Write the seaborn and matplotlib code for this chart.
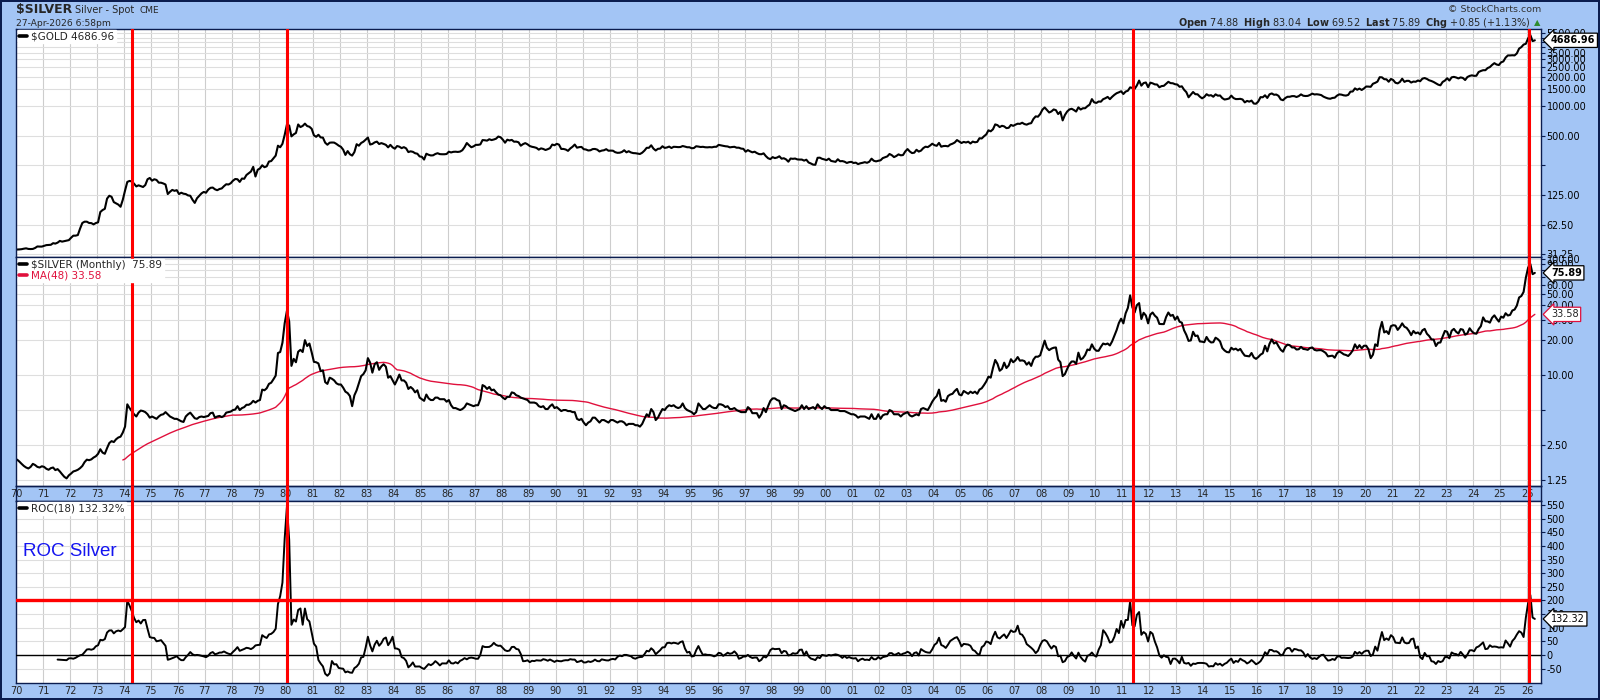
import numpy as np
import pandas as pd
import matplotlib
matplotlib.use("Agg")
import matplotlib.pyplot as plt
import seaborn as sns
from matplotlib.lines import Line2D
from matplotlib.ticker import FixedLocator, FixedFormatter, NullLocator

# ---------------- data: monthly closes, Jan 1970 .. Apr 2026 ----------------
GOLD_1970S = [
    34.9, 35.0, 35.2, 35.6, 35.9, 35.4, 35.3, 35.4, 36.2, 37.5, 37.4, 37.4,
    38.0, 38.7, 38.9, 39.0, 40.5, 40.1, 41.0, 42.7, 42.0, 42.5, 43.0, 43.5,
    46.0, 48.3, 48.3, 49.0, 57.0, 65.0, 67.0, 67.0, 65.0, 64.8, 62.9, 64.9,
    66.0, 84.0, 88.0, 90.5, 115.0, 123.0, 120.0, 106.0, 103.0, 100.0, 95.0, 112.0,
    139.0, 170.0, 174.0, 172.0, 163.0, 153.0, 157.0, 154.0, 151.0, 158.0, 181.0, 186.5,
    175.0, 181.0, 178.0, 167.0, 167.0, 164.0, 160.0, 128.0, 135.0, 141.0, 138.0, 140.2,
    128.0, 132.0, 129.0, 128.0, 124.0, 123.0, 112.0, 104.0, 116.0, 123.0, 130.0, 134.5,
    132.0, 142.0, 148.0, 149.0, 143.0, 140.0, 144.0, 146.0, 154.0, 161.0, 160.0, 164.9,
    175.0, 182.0, 181.0, 170.0, 184.0, 183.0, 200.0, 208.0, 217.0, 242.0, 193.0, 226.0,
    233.0, 251.0, 240.0, 245.0, 274.0, 277.0, 296.0, 315.0, 397.0, 383.0, 415.0, 512.0,
]
GOLD_1980S = [
    653, 637, 494, 518, 535, 653, 614, 631, 666, 629, 619, 590,
    506, 489, 513, 482, 480, 426, 406, 426, 428, 427, 414, 398,
    387, 362, 320, 350, 325, 315, 342, 411, 397, 423, 436, 457,
    481, 408, 414, 429, 437, 413, 422, 414, 405, 382, 405, 382,
    370, 394, 388, 375, 384, 373, 342, 348, 344, 333, 329, 309,
    306, 287, 329, 321, 316, 317, 327, 333, 326, 325, 325, 327,
    345, 339, 344, 345, 343, 346, 357, 384, 423, 401, 383, 391,
    405, 405, 409, 453, 451, 447, 462, 453, 459, 468, 492, 484,
    458, 426, 457, 449, 455, 436, 437, 430, 397, 412, 422, 410,
    394, 387, 383, 377, 362, 373, 368, 359, 366, 375, 408, 401,
]
GOLD_1990S = [
    415, 407, 368, 368, 363, 352, 372, 387, 408, 379, 384, 386,
    366, 363, 355, 357, 367, 368, 362, 347, 354, 357, 366, 353,
    354, 353, 341, 336, 337, 343, 357, 340, 349, 339, 334, 333,
    330, 327, 337, 354, 378, 378, 401, 371, 355, 369, 371, 392,
    377, 381, 389, 376, 387, 386, 384, 385, 394, 389, 383, 383,
    374, 376, 392, 389, 385, 387, 383, 382, 384, 382, 387, 387,
    405, 400, 396, 392, 390, 382, 385, 387, 379, 379, 371, 369,
    345, 358, 348, 340, 345, 334, 326, 325, 332, 311, 296, 290,
    304, 297, 301, 310, 293, 296, 288, 273, 294, 292, 294, 288,
    287, 287, 280, 286, 268, 262, 255, 254, 299, 300, 292, 288,
]
GOLD_2000S = [
    283, 293, 278, 275, 272, 289, 276, 277, 273, 265, 270, 272,
    265, 267, 258, 263, 266, 270, 266, 273, 293, 279, 275, 279,
    282, 297, 303, 309, 327, 318, 304, 312, 324, 317, 319, 347,
    367, 347, 334, 337, 361, 346, 354, 375, 388, 384, 398, 416,
    402, 396, 424, 388, 394, 395, 391, 408, 416, 428, 453, 438,
    423, 434, 428, 436, 418, 437, 430, 434, 473, 470, 495, 517,
    569, 556, 583, 654, 643, 614, 633, 624, 599, 604, 646, 632,
    650, 665, 662, 680, 659, 650, 666, 673, 743, 789, 783, 834,
    923, 972, 916, 864, 886, 928, 913, 833, 880, 718, 815, 884,
    928, 943, 916, 883, 975, 926, 954, 955, 1001, 1040, 1182, 1096,
]
GOLD_2010S = [
    1081, 1118, 1113, 1180, 1207, 1245, 1181, 1248, 1307, 1357, 1386, 1421,
    1332, 1410, 1439, 1556, 1536, 1500, 1628, 1825, 1620, 1722, 1746, 1565,
    1738, 1711, 1669, 1664, 1560, 1604, 1614, 1692, 1773, 1719, 1713, 1675,
    1663, 1578, 1596, 1472, 1392, 1234, 1313, 1396, 1327, 1323, 1253, 1204,
    1244, 1326, 1284, 1296, 1250, 1322, 1282, 1287, 1210, 1171, 1182, 1199,
    1283, 1212, 1183, 1184, 1190, 1172, 1095, 1134, 1114, 1142, 1065, 1061,
    1118, 1238, 1234, 1293, 1215, 1322, 1351, 1309, 1316, 1276, 1173, 1152,
    1211, 1249, 1249, 1268, 1268, 1242, 1269, 1321, 1280, 1271, 1275, 1303,
    1345, 1318, 1325, 1315, 1299, 1253, 1224, 1201, 1192, 1215, 1222, 1282,
    1321, 1313, 1292, 1284, 1305, 1409, 1413, 1520, 1472, 1513, 1464, 1517,
]
GOLD_2020S = [
    1588, 1585, 1577, 1694, 1730, 1781, 1975, 1968, 1886, 1879, 1776, 1895,
    1847, 1734, 1708, 1769, 1906, 1770, 1814, 1813, 1743, 1783, 1774, 1829,
    1797, 1909, 1937, 1896, 1837, 1807, 1765, 1711, 1660, 1633, 1768, 1824,
    1928, 1827, 1969, 1990, 1962, 1919, 1965, 1940, 1849, 1983, 2036, 2063,
    2039, 2044, 2230, 2286, 2327, 2326, 2447, 2503, 2635, 2744, 2657, 2625,
    2798, 2858, 3124, 3289, 3289, 3303, 3290, 3448, 3858, 3996, 4239, 4320,
    4900, 5300, 4600, 4686.96,
]

SILVER_1970S = [
    1.87, 1.80, 1.72, 1.65, 1.60, 1.57, 1.62, 1.72, 1.68, 1.62, 1.60, 1.64,
    1.62, 1.56, 1.53, 1.58, 1.60, 1.52, 1.55, 1.48, 1.40, 1.33, 1.29, 1.37,
    1.42, 1.48, 1.50, 1.53, 1.58, 1.65, 1.78, 1.87, 1.85, 1.88, 1.95, 2.00,
    2.10, 2.30, 2.15, 2.10, 2.35, 2.60, 2.70, 2.65, 2.80, 2.90, 2.95, 3.20,
    3.60, 5.60, 5.20, 4.90, 4.60, 4.40, 4.75, 4.95, 4.90, 4.80, 4.60, 4.30,
    4.40, 4.30, 4.20, 4.40, 4.55, 4.60, 4.80, 4.60, 4.40, 4.30, 4.20, 4.20,
    4.10, 4.00, 3.95, 4.40, 4.60, 4.75, 4.50, 4.25, 4.20, 4.35, 4.40, 4.35,
    4.40, 4.45, 4.70, 4.75, 4.30, 4.40, 4.45, 4.35, 4.45, 4.75, 4.80, 4.85,
    5.00, 5.05, 5.40, 5.00, 5.20, 5.30, 5.55, 5.55, 5.70, 6.00, 5.80, 6.00,
    6.10, 7.50, 7.40, 7.70, 8.40, 8.60, 9.20, 9.90, 15.50, 15.80, 19.00, 28.00,
]
SILVER_1980S = [
    35.80, 29.00, 12.00, 13.80, 12.90, 15.90, 16.50, 15.80, 20.00, 17.80, 18.70, 15.70,
    13.00, 12.90, 12.60, 10.80, 11.00, 8.70, 8.40, 9.50, 9.30, 9.00, 8.50, 8.30,
    8.30, 7.80, 7.20, 7.00, 6.60, 5.40, 6.70, 7.40, 8.50, 9.80, 10.20, 11.00,
    14.00, 12.80, 10.50, 12.40, 12.90, 11.10, 11.90, 12.40, 11.80, 9.50, 9.80, 9.00,
    8.30, 9.10, 10.10, 9.00, 9.00, 8.60, 7.60, 7.90, 7.60, 7.10, 7.40, 6.40,
    6.20, 6.00, 6.80, 6.30, 6.10, 6.10, 6.40, 6.40, 6.20, 6.20, 6.20, 5.90,
    6.10, 5.50, 5.20, 5.20, 5.10, 5.00, 5.10, 5.30, 5.70, 5.60, 5.50, 5.40,
    5.50, 5.50, 6.20, 8.20, 8.00, 7.60, 7.90, 7.40, 7.50, 7.10, 6.80, 6.70,
    6.40, 6.20, 6.50, 6.50, 7.10, 7.00, 6.70, 6.60, 6.40, 6.30, 6.20, 6.10,
    5.80, 5.80, 5.80, 5.70, 5.40, 5.30, 5.40, 5.10, 5.10, 5.40, 5.60, 5.20,
]
SILVER_1990S = [
    5.30, 5.10, 4.90, 5.00, 5.00, 4.90, 4.90, 4.80, 4.80, 4.20, 4.10, 4.20,
    3.90, 3.70, 3.90, 4.00, 4.30, 4.30, 4.10, 3.90, 4.10, 4.10, 4.00, 3.90,
    4.10, 4.10, 4.00, 3.90, 4.00, 4.00, 3.90, 3.70, 3.80, 3.80, 3.80, 3.70,
    3.70, 3.60, 3.80, 4.20, 4.60, 4.40, 5.10, 4.80, 4.10, 4.30, 4.70, 5.10,
    5.00, 5.30, 5.50, 5.40, 5.50, 5.30, 5.20, 5.30, 5.70, 5.20, 5.00, 4.90,
    4.80, 4.60, 4.80, 5.70, 5.40, 5.10, 5.10, 5.30, 5.50, 5.30, 5.20, 5.20,
    5.60, 5.60, 5.50, 5.30, 5.40, 5.10, 5.10, 5.20, 5.00, 4.90, 4.80, 4.80,
    4.80, 5.30, 5.10, 4.70, 4.70, 4.70, 4.30, 4.60, 5.20, 4.80, 5.40, 6.00,
    6.30, 6.30, 6.10, 6.00, 5.10, 5.50, 5.40, 5.20, 5.10, 5.00, 4.90, 5.00,
    5.10, 5.50, 5.10, 5.40, 5.10, 5.20, 5.30, 5.10, 5.60, 5.30, 5.10, 5.40,
]
SILVER_2000S = [
    5.20, 5.20, 5.00, 5.00, 5.00, 5.00, 4.90, 4.90, 4.90, 4.80, 4.70, 4.60,
    4.60, 4.50, 4.30, 4.40, 4.40, 4.40, 4.30, 4.20, 4.60, 4.20, 4.20, 4.60,
    4.20, 4.50, 4.60, 4.60, 5.00, 4.90, 4.60, 4.60, 4.60, 4.40, 4.60, 4.70,
    4.80, 4.50, 4.40, 4.50, 4.60, 4.50, 5.10, 5.20, 5.10, 5.00, 5.40, 5.90,
    6.30, 6.60, 7.50, 6.00, 6.10, 5.90, 6.60, 6.80, 6.90, 7.30, 7.60, 6.80,
    6.70, 7.30, 7.10, 6.90, 7.20, 7.00, 7.20, 6.90, 7.50, 7.70, 8.20, 8.80,
    9.70, 9.50, 11.50, 13.50, 12.50, 10.90, 11.30, 12.80, 11.50, 12.10, 13.70, 12.90,
    13.40, 14.30, 13.30, 13.40, 13.20, 12.30, 12.90, 12.00, 13.60, 14.40, 14.40, 14.80,
    17.10, 19.80, 17.20, 16.40, 16.90, 17.20, 17.30, 13.60, 12.90, 9.80, 10.20, 11.30,
    12.40, 13.10, 13.10, 12.50, 15.60, 13.60, 14.00, 14.90, 16.60, 16.40, 18.40, 16.90,
]
SILVER_2010S = [
    16.20, 16.20, 17.50, 18.70, 18.40, 18.70, 18.00, 19.50, 21.80, 24.40, 28.10, 30.60,
    27.90, 34.00, 37.90, 48.60, 38.40, 34.60, 40.00, 41.70, 30.40, 34.40, 32.60, 27.90,
    33.20, 34.60, 32.50, 31.20, 27.60, 27.50, 27.50, 31.60, 34.60, 32.40, 33.00, 30.00,
    31.90, 28.80, 28.30, 24.30, 22.20, 19.70, 19.90, 23.60, 21.70, 21.90, 19.50, 19.40,
    19.20, 21.30, 19.80, 19.10, 19.20, 21.00, 20.40, 19.50, 17.10, 16.30, 15.80, 15.70,
    17.20, 16.60, 16.90, 16.30, 16.80, 15.60, 14.70, 14.60, 14.50, 15.50, 14.20, 13.80,
    14.30, 15.00, 15.40, 17.90, 16.00, 18.60, 20.30, 18.70, 19.20, 17.70, 16.50, 15.90,
    17.50, 18.30, 18.10, 17.30, 17.30, 16.60, 16.70, 17.50, 16.80, 16.70, 16.50, 17.10,
    17.30, 16.50, 16.30, 16.40, 16.40, 16.00, 15.50, 14.50, 14.60, 14.70, 14.10, 15.40,
    16.00, 15.60, 15.10, 14.90, 14.60, 15.30, 16.30, 18.40, 17.00, 18.10, 17.00, 17.90,
]
SILVER_2020S = [
    17.90, 16.70, 14.00, 15.00, 18.40, 17.80, 24.40, 28.70, 23.30, 23.90, 22.60, 26.40,
    26.90, 26.70, 24.50, 25.90, 27.90, 26.10, 25.50, 24.00, 22.10, 24.00, 22.90, 23.30,
    22.40, 24.30, 25.00, 22.70, 21.70, 20.30, 20.20, 17.80, 19.00, 19.10, 21.50, 24.00,
    23.60, 20.90, 24.10, 25.00, 23.60, 22.80, 24.90, 24.60, 22.30, 22.90, 25.30, 23.80,
    22.90, 22.70, 24.90, 26.40, 31.40, 29.10, 29.00, 28.30, 31.20, 32.70, 30.60, 28.90,
    31.90, 31.20, 34.10, 32.60, 33.00, 36.00, 36.70, 39.70, 46.60, 48.00, 52.00, 69.00,
    84.00, 90.50, 74.00, 75.89,
]

START_YEAR = 1970
MA_LEN = 48
ROC_LEN = 18
ROC_ALERT = 200
SIGNAL_DATES = [1974.30, 1980.03, 2011.40, 2026.09]   # red vertical markers
YEARS = list(range(1970, 2027))
YEAR_LABELS = [f"{y % 100:02d}" for y in YEARS]

GOLD_TICKS = [31.25, 62.5, 125, 250, 500, 1000, 1500, 2000, 2500, 3000, 3500, 4000, 4500, 5000, 5500]
GOLD_TICK_LABELS = ["31.25", "62.50", "125.00", "", "500.00", "1000.00", "1500.00", "2000.00",
                    "2500.00", "3000.00", "3500.00", "", "", "", "5500.00"]
SILVER_TICKS = [1.25, 2.5, 5, 10, 20, 30, 40, 50, 60, 70, 80, 90, 100]
SILVER_TICK_LABELS = ["1.25", "2.50", "", "10.00", "20.00", "30.00", "40.00", "50.00",
                      "60.00", "", "", "90.00", "100.00"]
ROC_TICKS = list(range(-50, 551, 50))

LAST_GOLD, LAST_SILVER, LAST_MA, LAST_ROC = "4686.96", "75.89", "33.58", "132.32"
TITLE_SYMBOL = r"\$SILVER"
TITLE_NAME = "Silver - Spot"
TITLE_EXCH = "CME"
DATE_TEXT = "27-Apr-2026 6:58pm"
OHLC_TEXT = (r"$\mathbf{Open}$ 74.88  $\mathbf{High}$ 83.04  $\mathbf{Low}$ 69.52  "
             r"$\mathbf{Last}$ 75.89  $\mathbf{Chg}$ +0.85 (+1.13%)")
BRAND = "\u00a9 StockCharts.com"

# ---------------- frame ----------------
gold = np.array(GOLD_1970S + GOLD_1980S + GOLD_1990S + GOLD_2000S + GOLD_2010S + GOLD_2020S, float)
silver = np.array(SILVER_1970S + SILVER_1980S + SILVER_1990S + SILVER_2000S + SILVER_2010S + SILVER_2020S, float)
n = min(len(gold), len(silver))
gold, silver = gold[:n], silver[:n]
df = pd.DataFrame({"t": START_YEAR + np.arange(n) / 12 + 1 / 24, "gold": gold, "silver": silver})
df["ma"] = df["silver"].rolling(MA_LEN).mean()
df["roc"] = (df["silver"] / df["silver"].shift(ROC_LEN) - 1) * 100

# ---------------- style ----------------
sns.set_theme(style="white")
plt.rcParams["font.family"] = ["DejaVu Sans"]
plt.rcParams["mathtext.fontset"] = "dejavusans"

BG = "#a3c5f5"
NAVY = "#0b1d4f"
RED = "#ff0000"
MA_COL = "#e0103c"

W, H = 1600, 700
fig = plt.figure(figsize=(16, 7), dpi=100, facecolor=BG)
fig.patch.set_edgecolor(NAVY)
fig.patch.set_linewidth(1.5)


def rect(l, t, r, b):
    return [l / W, 1 - b / H, (r - l) / W, (b - t) / H]


ax_g = fig.add_axes(rect(16, 28.7, 1541, 257))
ax_s = fig.add_axes(rect(16, 257, 1541, 485.5))
ax_t = fig.add_axes(rect(16, 485.5, 1541, 500.7))
ax_r = fig.add_axes(rect(16, 500.7, 1541, 682.7))
XLIM = (1970.0, 2026.52)


def base(ax):
    ax.set_facecolor("white")
    ax.set_xlim(*XLIM)
    ax.set_axisbelow(True)
    ax.xaxis.set_major_locator(FixedLocator(YEARS))
    ax.xaxis.set_minor_locator(NullLocator())
    ax.grid(True, axis="x", color="#cdcdcd", lw=0.8)
    ax.grid(True, axis="y", color="#dedede", lw=0.8)
    for sp in ax.spines.values():
        sp.set_color(NAVY)
        sp.set_linewidth(1.0)
    ax.yaxis.tick_right()
    ax.tick_params(axis="y", which="major", right=True, left=False, length=3, width=0.8,
                   color=NAVY, labelsize=6.9, pad=1, labelcolor="black")
    ax.tick_params(axis="y", which="minor", length=0)
    ax.set_xlabel("")
    ax.set_ylabel("")


# gold
sns.lineplot(data=df, x="t", y="gold", ax=ax_g, color="black", lw=1.5, estimator=None, sort=False)
ax_g.set_yscale("log")
base(ax_g)
ax_g.set_ylim(29.3, 6150)
ax_g.yaxis.set_major_locator(FixedLocator(GOLD_TICKS))
ax_g.yaxis.set_major_formatter(FixedFormatter(GOLD_TICK_LABELS))
ax_g.yaxis.set_minor_locator(NullLocator())
ax_g.tick_params(axis="x", length=0, labelbottom=False)

# silver + MA
sns.lineplot(data=df, x="t", y="ma", ax=ax_s, color=MA_COL, lw=1.0, estimator=None, sort=False)
sns.lineplot(data=df, x="t", y="silver", ax=ax_s, color="black", lw=1.5, estimator=None, sort=False)
ax_s.set_yscale("log")
base(ax_s)
ax_s.set_ylim(1.12, 104)
ax_s.yaxis.set_major_locator(FixedLocator(SILVER_TICKS))
ax_s.yaxis.set_major_formatter(FixedFormatter(SILVER_TICK_LABELS))
ax_s.yaxis.set_minor_locator(NullLocator())
ax_s.set_xticklabels(YEAR_LABELS)
ax_s.tick_params(axis="x", length=0, pad=2.2, labelsize=7)

# ROC
sns.lineplot(data=df, x="t", y="roc", ax=ax_r, color="black", lw=1.4, estimator=None, sort=False)
base(ax_r)
ax_r.set_ylim(-102, 566)
ax_r.yaxis.set_major_locator(FixedLocator(ROC_TICKS))
ax_r.yaxis.set_major_formatter(FixedFormatter([str(v) for v in ROC_TICKS]))
ax_r.set_xticklabels(YEAR_LABELS)
ax_r.tick_params(axis="x", length=0, pad=2.2, labelsize=7)
ax_r.axhline(0, color="black", lw=1.0, zorder=2.6)
ax_r.axhline(ROC_ALERT, color=RED, lw=2.4, zorder=6)
ax_r.text(0.0046, 0.72, "ROC Silver", transform=ax_r.transAxes, color="#1414f0",
          fontsize=13.5, family=["Liberation Sans", "DejaVu Sans"], va="center", ha="left")

# strip between panels
ax_t.set_facecolor("none")
ax_t.patch.set_alpha(0)
ax_t.set_xlim(*XLIM)
ax_t.set_xticks([])
ax_t.set_yticks([])
for sp in ax_t.spines.values():
    sp.set_color(NAVY)
    sp.set_linewidth(1.0)

# signal lines
for ax in (ax_g, ax_s, ax_t, ax_r):
    for d in SIGNAL_DATES:
        ax.axvline(d, color=RED, lw=2.2, zorder=5)

# legends
leg_kw = dict(loc="upper left", bbox_to_anchor=(0.0, 1.0), borderaxespad=0.15, frameon=True,
              fancybox=False, framealpha=1.0, edgecolor="white", facecolor="white",
              fontsize=7.5, handlelength=0.8, handletextpad=0.35, borderpad=0.15, labelspacing=0.05)
lg = ax_g.legend(handles=[Line2D([], [], color="black", lw=2.6)],
                 labels=[r"\$GOLD " + LAST_GOLD], **leg_kw)
lg.set_zorder(8)
ls = ax_s.legend(handles=[Line2D([], [], color="black", lw=2.6), Line2D([], [], color=MA_COL, lw=2.6)],
                 labels=[r"\$SILVER (Monthly)  " + LAST_SILVER, "MA(48) " + LAST_MA], **leg_kw)
ls.get_texts()[1].set_color(MA_COL)
ls.set_zorder(8)
lr = ax_r.legend(handles=[Line2D([], [], color="black", lw=2.6)],
                 labels=["ROC(18) " + LAST_ROC + "%"], **leg_kw)
lr.set_zorder(8)


# value boxes on the right scale
def value_box(ax, y, s, ec, tc, bold):
    ax.text(1.0065, y, s, transform=ax.get_yaxis_transform(), ha="left", va="center",
            fontsize=7, fontweight="bold" if bold else "normal", color=tc, zorder=20,
            clip_on=False,
            bbox=dict(boxstyle="larrow,pad=0.22", fc="white", ec=ec, lw=0.9))


value_box(ax_g, df["gold"].iloc[-1], LAST_GOLD, "black", "black", True)
value_box(ax_s, df["ma"].iloc[-1], LAST_MA, MA_COL, "#222222", False)
value_box(ax_s, df["silver"].iloc[-1], LAST_SILVER, "black", "black", True)
value_box(ax_r, df["roc"].iloc[-1], LAST_ROC, "black", "black", False)

# header
fig.text(16 / W, 1 - 9.5 / H, TITLE_SYMBOL, fontsize=9, fontweight="bold", va="center", ha="left")
fig.text(75 / W, 1 - 10 / H, TITLE_NAME, fontsize=7, va="center", ha="left")
fig.text(140 / W, 1 - 10.5 / H, TITLE_EXCH, fontsize=6.5, va="center", ha="left")
fig.text(16 / W, 1 - 23 / H, DATE_TEXT, fontsize=6.6, va="center", ha="left")
fig.text(1541 / W, 1 - 10 / H, BRAND, fontsize=6.8, color="#333333", va="center", ha="right")
fig.text(1531 / W, 1 - 22.7 / H, OHLC_TEXT, fontsize=7, va="center", ha="right")
fig.text(1534 / W, 1 - 22.7 / H, "\u25b2", fontsize=6, color="#2e8b2e", va="center", ha="left")

fig.savefig("out.png", dpi=100, facecolor=fig.get_facecolor(), edgecolor=fig.get_edgecolor())
